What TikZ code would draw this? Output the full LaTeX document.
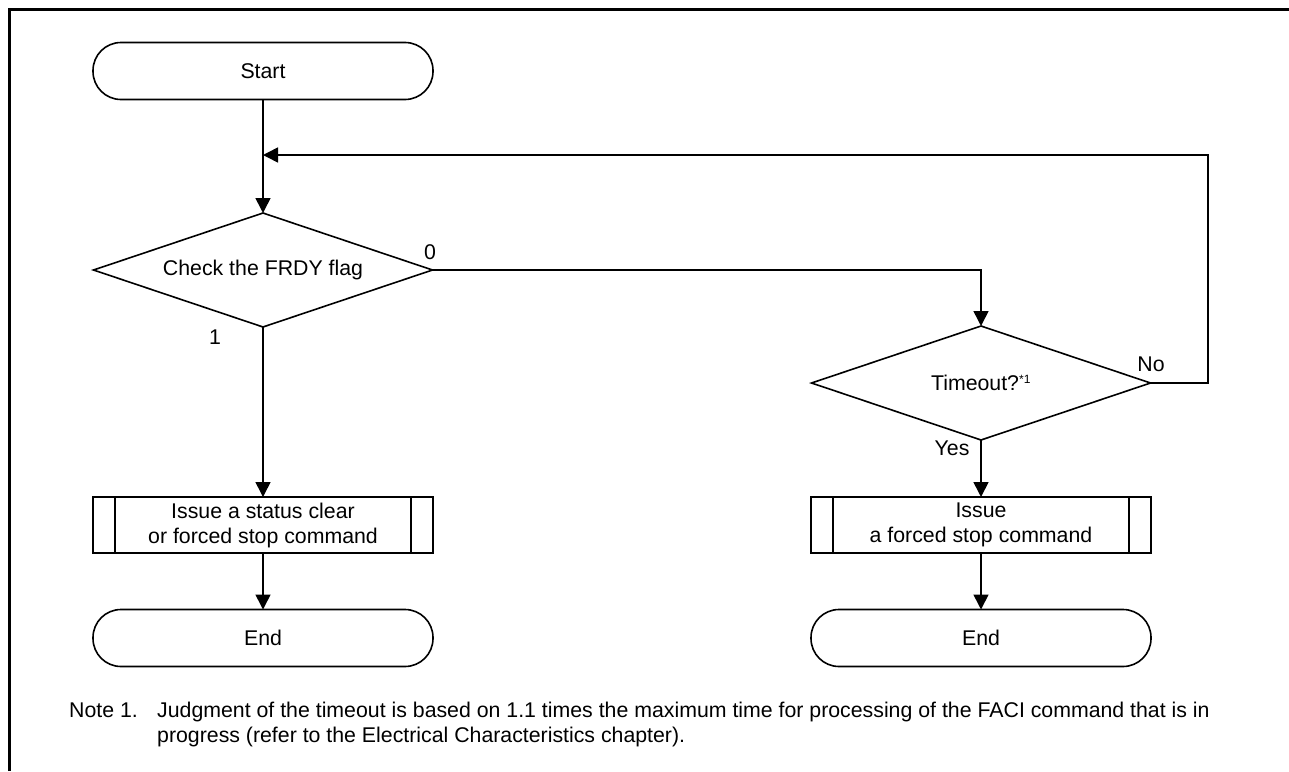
\documentclass[tikz,border=0pt]{standalone}
\usepackage{fontspec}
\setmainfont{Liberation Sans}
\usetikzlibrary{shapes.geometric,arrows.meta,calc}
\begin{document}
\begin{tikzpicture}[x=1pt,y=-1pt,
  every node/.style={font=\fontsize{21.3}{25}\selectfont},
  term/.style={draw,line width=1.6pt,rectangle,rounded corners=28pt,minimum width=340pt,minimum height=57pt,inner sep=0,outer sep=0},
  dec/.style={draw,line width=1.6pt,diamond,aspect=2.97,minimum width=339pt,minimum height=114pt,inner sep=0,outer sep=0},
  proc/.style={draw,line width=1.6pt,rectangle,minimum width=340pt,minimum height=56pt,inner sep=0,outer sep=0,align=center},
  flow/.style={line width=1.6pt,-{Triangle[length=15pt,width=15pt]}},
  lbl/.style={inner sep=0},
  note/.style={inner sep=0,anchor=base west},
  frame/.style={line width=3pt}
]
\useasboundingbox (0,0) rectangle (1289,771);
\draw[frame] (9,771) -- (9,9) -- (1289,9);

\node[term] (start) at (263,71) {Start};
\node[dec] (d1) at (263,270) {Check the FRDY flag};
\node[dec] (d2) at (981,383) {Timeout?\textsuperscript{\fontsize{12}{13}\selectfont *1}};
\node[proc] (p1) at (263,525) {Issue a status clear\\or forced stop command};
\node[proc] (p2) at (981,525) {Issue\\a forced stop command};
\node[term] (e1) at (263,638) {End};
\node[term] (e2) at (981,638) {End};

\foreach \p in {p1,p2}{
  \draw[line width=1.6pt] ([xshift=22pt]\p.north west) -- ([xshift=22pt]\p.south west);
  \draw[line width=1.6pt] ([xshift=-22pt]\p.north east) -- ([xshift=-22pt]\p.south east);
}

\coordinate (loopin) at (263,155);
\coordinate (loopr) at (1208,383);

\draw[flow] (start.south) -- (d1.north);
\draw[flow] (d1.east) -| (d2.north);
\draw[flow] (d1.south) -- (p1.north);
\draw[flow] (p1.south) -- (e1.north);
\draw[flow] (d2.south) -- (p2.north);
\draw[flow] (p2.south) -- (e2.north);
\draw[flow] (d2.east) -- (loopr) |- (loopin);

\node[lbl] (l0) at (430,252) {0};
\node[lbl] (l1) at (215,337) {1};
\node[lbl] (lno) at (1151,364) {No};
\node[lbl] (lyes) at (952,448) {Yes};

\node[note] (n1) at (69,717) {Note 1.};
\node[note] (n2) at (157,717) {Judgment of the timeout is based on 1.1 times the maximum time for processing of the FACI command that is in};
\node[note] (n3) at (157,742) {progress (refer to the Electrical Characteristics chapter).};
\end{tikzpicture}
\end{document}
